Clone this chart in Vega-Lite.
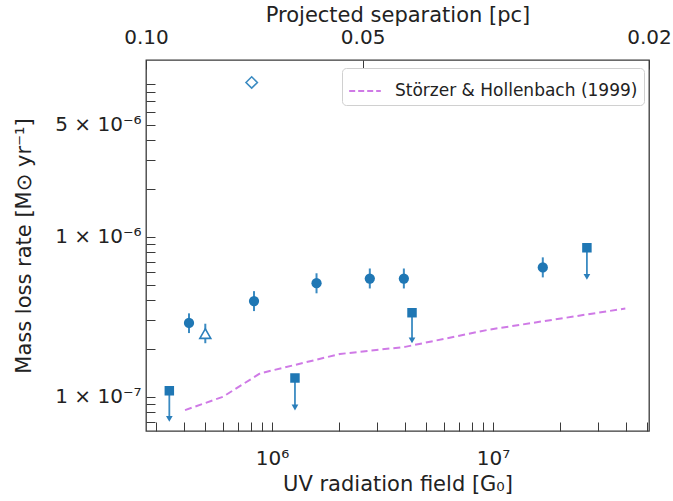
{
  "$schema": "https://vega.github.io/schema/vega-lite/v6.json",
  "width": 503,
  "height": 371,
  "autosize": {"type": "none"},
  "padding": {"left": 146, "top": 60, "right": 24, "bottom": 70},
  "background": "white",
  "config": {
    "font": "DejaVu Sans",
    "view": {"stroke": "#3a3a3a", "strokeWidth": 1.3},
    "axis": {
      "domain": false,
      "grid": false,
      "tickColor": "#3a3a3a",
      "tickSize": -9,
      "tickWidth": 1,
      "labelColor": "#222222",
      "titleColor": "#222222",
      "labelFontSize": 20,
      "titleFontSize": 21,
      "titleFontWeight": "normal",
      "labelOverlap": false,
      "labelFlush": false,
      "labelBound": false
    }
  },
  "datasets": {
    "model": [
      {"G": 404000, "M": 8.25e-8, "series": "Störzer & Hollenbach (1999)"},
      {"G": 600000, "M": 1.0e-7, "series": "Störzer & Hollenbach (1999)"},
      {"G": 883000, "M": 1.40e-7, "series": "Störzer & Hollenbach (1999)"},
      {"G": 2030000, "M": 1.85e-7, "series": "Störzer & Hollenbach (1999)"},
      {"G": 4000000, "M": 2.05e-7, "series": "Störzer & Hollenbach (1999)"},
      {"G": 9500000, "M": 2.62e-7, "series": "Störzer & Hollenbach (1999)"},
      {"G": 39700000, "M": 3.56e-7, "series": "Störzer & Hollenbach (1999)"}
    ],
    "det": [
      {"G": 421000, "M": 2.89e-7, "lo": 2.50e-7, "hi": 3.32e-7},
      {"G": 829000, "M": 3.96e-7, "lo": 3.43e-7, "hi": 4.57e-7},
      {"G": 1590000, "M": 5.12e-7, "lo": 4.43e-7, "hi": 5.91e-7},
      {"G": 2770000, "M": 5.48e-7, "lo": 4.75e-7, "hi": 6.33e-7},
      {"G": 3950000, "M": 5.48e-7, "lo": 4.75e-7, "hi": 6.33e-7},
      {"G": 16800000, "M": 6.43e-7, "lo": 5.57e-7, "hi": 7.43e-7}
    ],
    "tri": [
      {"G": 499000, "M": 2.48e-7, "lo": 2.16e-7, "hi": 2.86e-7}
    ],
    "dia": [
      {"G": 809000, "M": 9.2e-6}
    ],
    "ul": [
      {"G": 343000, "M": 1.09e-7, "end": 7.28e-8},
      {"G": 1270000, "M": 1.31e-7, "end": 8.57e-8},
      {"G": 4300000, "M": 3.35e-7, "end": 2.25e-7},
      {"G": 26600000, "M": 8.53e-7, "end": 5.61e-7}
    ],
    "top": [
      {"sep": 0.05}
    ]
  },
  "layer": [
    {
      "layer": [
        {
          "data": {"name": "model"},
          "mark": {"type": "line", "strokeDash": [7, 4], "strokeWidth": 2},
          "encoding": {
            "x": {
              "field": "G", "type": "quantitative",
              "scale": {"type": "log", "domain": [269000, 50800000], "nice": false},
              "axis": {
                "orient": "bottom",
                "values": [300000, 400000, 500000, 600000, 700000, 800000, 900000, 1000000, 2000000, 3000000, 4000000, 5000000, 6000000, 7000000, 8000000, 9000000, 10000000, 20000000, 30000000, 40000000, 50000000],
                "labelExpr": "abs(datum.value-1000000)<1 ? '10⁶' : abs(datum.value-10000000)<1 ? '10⁷' : ''",
                "labelPadding": 26,
                "title": "UV radiation field [G₀]",
                "titlePadding": 5
              }
            },
            "y": {
              "field": "M", "type": "quantitative",
              "scale": {"type": "log", "domain": [6.11e-8, 1.271e-5], "nice": false},
              "axis": {
                "orient": "left",
                "values": [7e-8, 8e-8, 9e-8, 1e-7, 2e-7, 3e-7, 4e-7, 5e-7, 6e-7, 7e-7, 8e-7, 9e-7, 1e-6, 2e-6, 3e-6, 4e-6, 5e-6, 6e-6, 7e-6, 8e-6, 9e-6],
                "labelExpr": "abs(datum.value-5e-6)<1e-9 ? '5 × 10⁻⁶' : abs(datum.value-1e-6)<1e-10 ? '1 × 10⁻⁶' : abs(datum.value-1e-7)<1e-11 ? '1 × 10⁻⁷' : ''",
                "labelPadding": 14,
                "title": "Mass loss rate [M⊙ yr⁻¹]",
                "titlePadding": 20
              }
            },
            "color": {
              "field": "series", "type": "nominal",
              "scale": {"domain": ["Störzer & Hollenbach (1999)"], "range": ["#cf7ae6"]},
              "legend": {
                "title": null,
                "orient": "none",
                "legendX": 196,
                "legendY": 8,
                "fillColor": "white",
                "strokeColor": "#d0d0d0",
                "cornerRadius": 4,
                "padding": 6,
                "symbolType": "stroke",
                "symbolStrokeWidth": 2,
                "symbolDash": [6, 3],
                "symbolSize": 1000,
                "labelFontSize": 17,
                "labelLimit": 400,
                "labelColor": "#222222",
                "labelOffset": 13
              }
            }
          }
        },
        {
          "data": {"name": "det"},
          "mark": {"type": "rule", "color": "#3b8bc2", "strokeWidth": 2},
          "encoding": {
            "x": {"field": "G", "type": "quantitative"},
            "y": {"field": "lo", "type": "quantitative"},
            "y2": {"field": "hi"}
          }
        },
        {
          "data": {"name": "tri"},
          "mark": {"type": "rule", "color": "#3b8bc2", "strokeWidth": 2},
          "encoding": {
            "x": {"field": "G", "type": "quantitative"},
            "y": {"field": "lo", "type": "quantitative"},
            "y2": {"field": "hi"}
          }
        },
        {
          "data": {"name": "ul"},
          "mark": {"type": "rule", "color": "#3b8bc2", "strokeWidth": 1.8},
          "encoding": {
            "x": {"field": "G", "type": "quantitative"},
            "y": {"field": "M", "type": "quantitative"},
            "y2": {"field": "end"}
          }
        },
        {
          "data": {"name": "ul"},
          "mark": {"type": "point", "shape": "triangle-down", "filled": true, "color": "#2b7fbb", "opacity": 1, "size": 45},
          "encoding": {
            "x": {"field": "G", "type": "quantitative"},
            "y": {"field": "end", "type": "quantitative"}
          }
        },
        {
          "data": {"name": "ul"},
          "mark": {"type": "point", "shape": "square", "filled": true, "color": "#1f77b4", "opacity": 1, "size": 90},
          "encoding": {
            "x": {"field": "G", "type": "quantitative"},
            "y": {"field": "M", "type": "quantitative"}
          }
        },
        {
          "data": {"name": "det"},
          "mark": {"type": "point", "shape": "circle", "filled": true, "color": "#1f77b4", "opacity": 1, "size": 105},
          "encoding": {
            "x": {"field": "G", "type": "quantitative"},
            "y": {"field": "M", "type": "quantitative"}
          }
        },
        {
          "data": {"name": "tri"},
          "mark": {"type": "point", "shape": "triangle-up", "filled": false, "fill": "white", "fillOpacity": 1, "stroke": "#2b7fbb", "strokeWidth": 1.6, "opacity": 1, "size": 120},
          "encoding": {
            "x": {"field": "G", "type": "quantitative"},
            "y": {"field": "M", "type": "quantitative"}
          }
        },
        {
          "data": {"name": "dia"},
          "mark": {"type": "point", "shape": "diamond", "filled": false, "fill": "white", "fillOpacity": 1, "stroke": "#3b8bc2", "strokeWidth": 1.6, "opacity": 1, "size": 130},
          "encoding": {
            "x": {"field": "G", "type": "quantitative"},
            "y": {"field": "M", "type": "quantitative"}
          }
        }
      ]
    },
    {
      "data": {"name": "top"},
      "mark": {"type": "point", "opacity": 0},
      "encoding": {
        "x": {
          "field": "sep", "type": "quantitative",
          "scale": {"type": "log", "domain": [0.1, 0.02], "nice": false},
          "axis": {
            "orient": "top",
            "values": [0.1, 0.05, 0.02],
            "format": ".2f",
            "labelPadding": 22,
            "title": "Projected separation [pc]",
            "titlePadding": 2
          }
        }
      }
    }
  ],
  "resolve": {"scale": {"x": "independent"}}
}
